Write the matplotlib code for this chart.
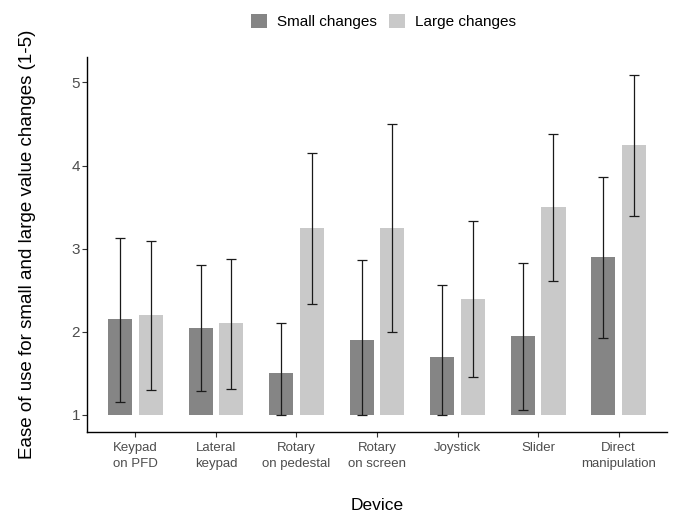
import matplotlib
matplotlib.use("Agg")
import matplotlib.pyplot as plt
import numpy as np

plt.rcParams['font.family'] = ['Liberation Sans', 'DejaVu Sans']

devices = ["Keypad\non PFD", "Lateral\nkeypad", "Rotary\non pedestal", "Rotary\non screen",
           "Joystick", "Slider", "Direct\nmanipulation"]

small_mean = [2.15, 2.05, 1.50, 1.90, 1.70, 1.95, 2.90]
small_low = [1.16, 1.29, 1.00, 1.00, 1.00, 1.06, 1.93]
small_high = [3.13, 2.80, 2.10, 2.86, 2.56, 2.83, 3.86]

large_mean = [2.20, 2.10, 3.25, 3.25, 2.40, 3.50, 4.25]
large_low = [1.30, 1.31, 2.34, 2.00, 1.46, 2.61, 3.39]
large_high = [3.09, 2.88, 4.15, 4.50, 3.33, 4.38, 5.09]

dark = "#858585"
light = "#c9c9c9"

fig = plt.figure(figsize=(6.78, 5.12), dpi=100)
ax = fig.add_axes([87 / 678, 80 / 512, 580 / 678, 375 / 512])

x = np.arange(1, len(devices) + 1)
w = 0.3
off = 0.19
base = 1.0

for pos, mean, lo, hi, col, lab in [
        (x - off, small_mean, small_low, small_high, dark, "Small changes"),
        (x + off, large_mean, large_low, large_high, light, "Large changes")]:
    mean = np.array(mean)
    ax.bar(pos, mean - base, bottom=base, width=w, color=col, label=lab)
    yerr = [mean - np.array(lo), np.array(hi) - mean]
    ax.errorbar(pos, mean, yerr=yerr, fmt='none', ecolor='#1a1a1a',
                elinewidth=0.9, capsize=3.5, capthick=0.9)

ax.set_xlim(0.4, 7.6)
ax.set_ylim(0.795, 5.305)
ax.set_yticks([1, 2, 3, 4, 5])
ax.set_xticks(x)
ax.set_xticklabels(devices, fontsize=9.5, color='#4d4d4d', linespacing=1.45)
ax.tick_params(axis='y', labelsize=11, labelcolor='#4d4d4d', pad=1.5)
ax.tick_params(axis='x', pad=4)
ax.tick_params(length=3.5, width=0.8, color='#333333')

for s in ['top', 'right']:
    ax.spines[s].set_visible(False)
for s in ['left', 'bottom']:
    ax.spines[s].set_linewidth(1.0)
    ax.spines[s].set_color('black')

ax.set_xlabel("Device", fontsize=12.5, labelpad=20)
ax.set_ylabel("Ease of use for small and large value changes (1-5)", fontsize=13.5)
ax.yaxis.set_label_coords(-0.088, 0.5)

handles, labels = ax.get_legend_handles_labels()
fig.legend(handles, labels, loc='upper center', bbox_to_anchor=(0.565, 1.0), ncol=2,
           frameon=False, fontsize=11, handlelength=1.1, handleheight=1.1,
           columnspacing=0.8, handletextpad=0.6)

fig.savefig("out.png", dpi=100)
